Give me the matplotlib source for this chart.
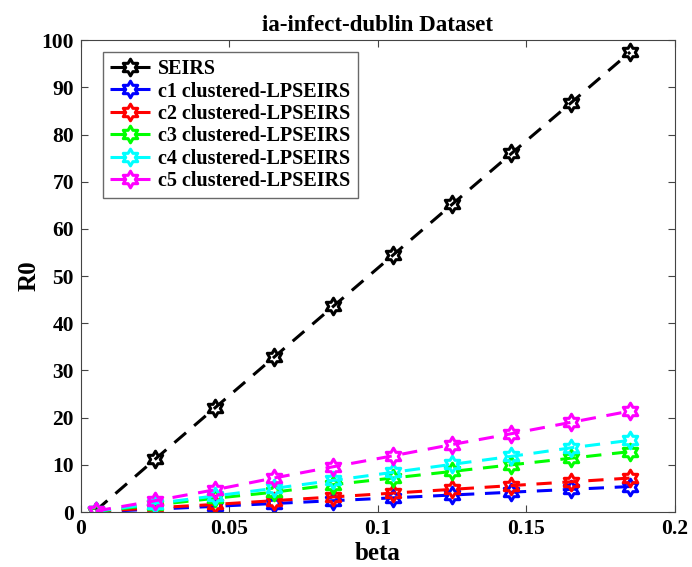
import matplotlib
matplotlib.use("Agg")
import matplotlib.pyplot as plt
import numpy as np
from matplotlib.path import Path

plt.rcParams['font.family'] = ['Liberation Serif', 'DejaVu Serif']
plt.rcParams['font.weight'] = 'bold'

# data
beta = [0.005, 0.025, 0.045, 0.065, 0.085, 0.105, 0.125, 0.145, 0.165, 0.185]
seirs = [0.3, 11.2, 22.0, 32.8, 43.6, 54.4, 65.2, 76.0, 86.7, 97.5]
c1 = [0.05, 0.6, 1.2, 1.8, 2.4, 3.0, 3.6, 4.2, 4.8, 5.4]
c2 = [0.1, 0.9, 1.6, 2.4, 3.2, 4.0, 4.8, 5.6, 6.4, 7.2]
c3 = [0.1, 1.5, 2.9, 4.2, 5.8, 7.2, 8.6, 10.0, 11.4, 12.8]
c4 = [0.15, 1.8, 3.4, 5.0, 6.7, 8.4, 10.1, 11.8, 13.6, 15.2]
c5 = [0.2, 2.4, 4.7, 7.2, 9.6, 11.9, 14.3, 16.6, 19.0, 21.4]

names = ['SEIRS', 'c1 clustered-LPSEIRS', 'c2 clustered-LPSEIRS',
         'c3 clustered-LPSEIRS', 'c4 clustered-LPSEIRS', 'c5 clustered-LPSEIRS']
colores = ['black', 'blue', 'red', '#00ff00', 'cyan', 'magenta']

xticks = [0, 0.05, 0.1, 0.15, 0.2]
xlabels = ['0', '0.05', '0.1', '0.15', '0.2']
yticks = [0, 10, 20, 30, 40, 50, 60, 70, 80, 90, 100]

# hexagram marker like matlab's 'h'
ang = np.pi / 2 + np.arange(12) * np.pi / 6
rad = np.where(np.arange(12) % 2 == 0, 1.0, 1 / np.sqrt(3))
verts = np.column_stack([rad * np.cos(ang), rad * np.sin(ang)])
verts = np.vstack([verts, verts[:1]])
hexagram = Path(verts, closed=True)

fig = plt.figure(figsize=(6.92, 5.67), dpi=100)
ax = fig.add_axes([0.117, 0.097, 0.858, 0.832])

series = [seirs, c1, c2, c3, c4, c5]
for i in range(len(series)):
    ax.plot(beta, series[i], linestyle='--', color=colores[i], linewidth=2.2,
            dashes=(5, 3.5), marker=hexagram, markersize=12,
            markerfacecolor='none', markeredgewidth=2.2, label=names[i])

ax.set_xlim(0, 0.2)
ax.set_ylim(0, 100)
ax.set_xticks(xticks)
ax.set_xticklabels(xlabels)
ax.set_yticks(yticks)
ax.tick_params(direction='in', top=True, right=True, labelsize=15.5, length=5,
               color='#444444', pad=5)
for lab in ax.get_xticklabels() + ax.get_yticklabels():
    lab.set_fontweight('bold')
for s in ax.spines.values():
    s.set_color('#444444')

ax.set_xlabel('beta', fontsize=18, fontweight='bold', labelpad=2)
ax.set_ylabel('R0', fontsize=18, fontweight='bold', labelpad=1)
ax.set_title('ia-infect-dublin Dataset', fontsize=16.5, fontweight='bold', pad=7)

leg = ax.legend(loc='upper left', bbox_to_anchor=(0.037, 0.975), borderaxespad=0,
                prop={'weight': 'bold', 'size': 14.5}, fancybox=False,
                edgecolor='#444444', handlelength=2.0, labelspacing=0.12,
                borderpad=0.35, handletextpad=0.4)
leg.get_frame().set_linewidth(1.0)

fig.savefig('out.png', dpi=100)
